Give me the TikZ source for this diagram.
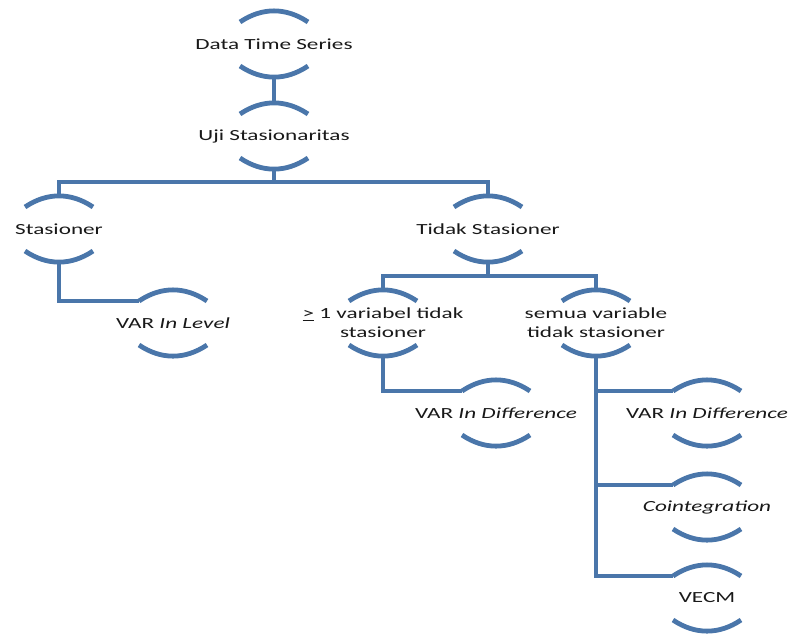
\documentclass[tikz,border=0pt]{standalone}
\usepackage{fontspec}
\setmainfont{Carlito}
\usetikzlibrary{calc}

\definecolor{arcblue}{RGB}{74,118,170}

\tikzset{
  lbl/.style={font=\fontsize{11.6}{14.3}\selectfont, xscale=1.5, align=center, inner sep=0pt, text=black!90},
  arcline/.style={draw=arcblue, line width=3.6pt},
  link/.style={draw=arcblue, line width=3pt},
}

% arcs above and below a label
\newcommand{\arcpair}[1]{%
  \draw[arcline] ($(#1)+(-34,-22)$) coordinate (#1-tl) to[bend left=34] ($(#1)+(34,-22)$);
  \draw[arcline] ($(#1)+(-34,22)$) to[bend right=34] ($(#1)+(34,22)$);
  \coordinate (#1-t) at ($(#1)+(0,-33)$);
  \coordinate (#1-b) at ($(#1)+(0,33)$);
}

\begin{document}
\begin{tikzpicture}[x=0.75pt, y=-0.75pt]
\useasboundingbox (0,0) rectangle (788,633);

% Labels
\node[lbl] (dts)   at (274,44)  {Data Time Series};
\node[lbl] (uji)   at (274,136) {Uji Stasionaritas};
\node[lbl] (stas)  at (59,229)  {Stasioner};
\node[lbl] (tdk)   at (488,229) {Tidak Stasioner};
\node[lbl] (lvl)   at (173,323) {VAR \textit{In Level}};
\node[lbl] (satu)  at (383,323) {\underline{>} 1 variabel tidak\\stasioner};
\node[lbl] (semua) at (596,323) {semua variable\\tidak stasioner};
\node[lbl] (difa)  at (496,413) {VAR \textit{In Difference}};
\node[lbl] (difb)  at (707,413) {VAR \textit{In Difference}};
\node[lbl] (coint) at (707,507) {\textit{Cointegration}};
\node[lbl] (vecm)  at (707,598) {VECM};

\foreach \n in {dts,uji,stas,tdk,lvl,satu,semua,difa,difb,coint,vecm}
  {\arcpair{\n}}

% Junctions
\coordinate (j1) at (274,182);
\coordinate (j2) at (488,276);

% Connectors
\draw[link] (dts-b) -- (uji-t);
\draw[link] (uji-b) -- (j1);
\draw[link] (stas-t) |- (j1) -| (tdk-t);
\draw[link] (stas-b) |- (lvl-tl);
\draw[link] (tdk-b) -- (j2);
\draw[link] (satu-t) |- (j2) -| (semua-t);
\draw[link] (satu-b) |- (difa-tl);
\foreach \n in {difb,coint,vecm}
  \draw[link] (semua-b) |- (\n-tl);

\end{tikzpicture}
\end{document}
